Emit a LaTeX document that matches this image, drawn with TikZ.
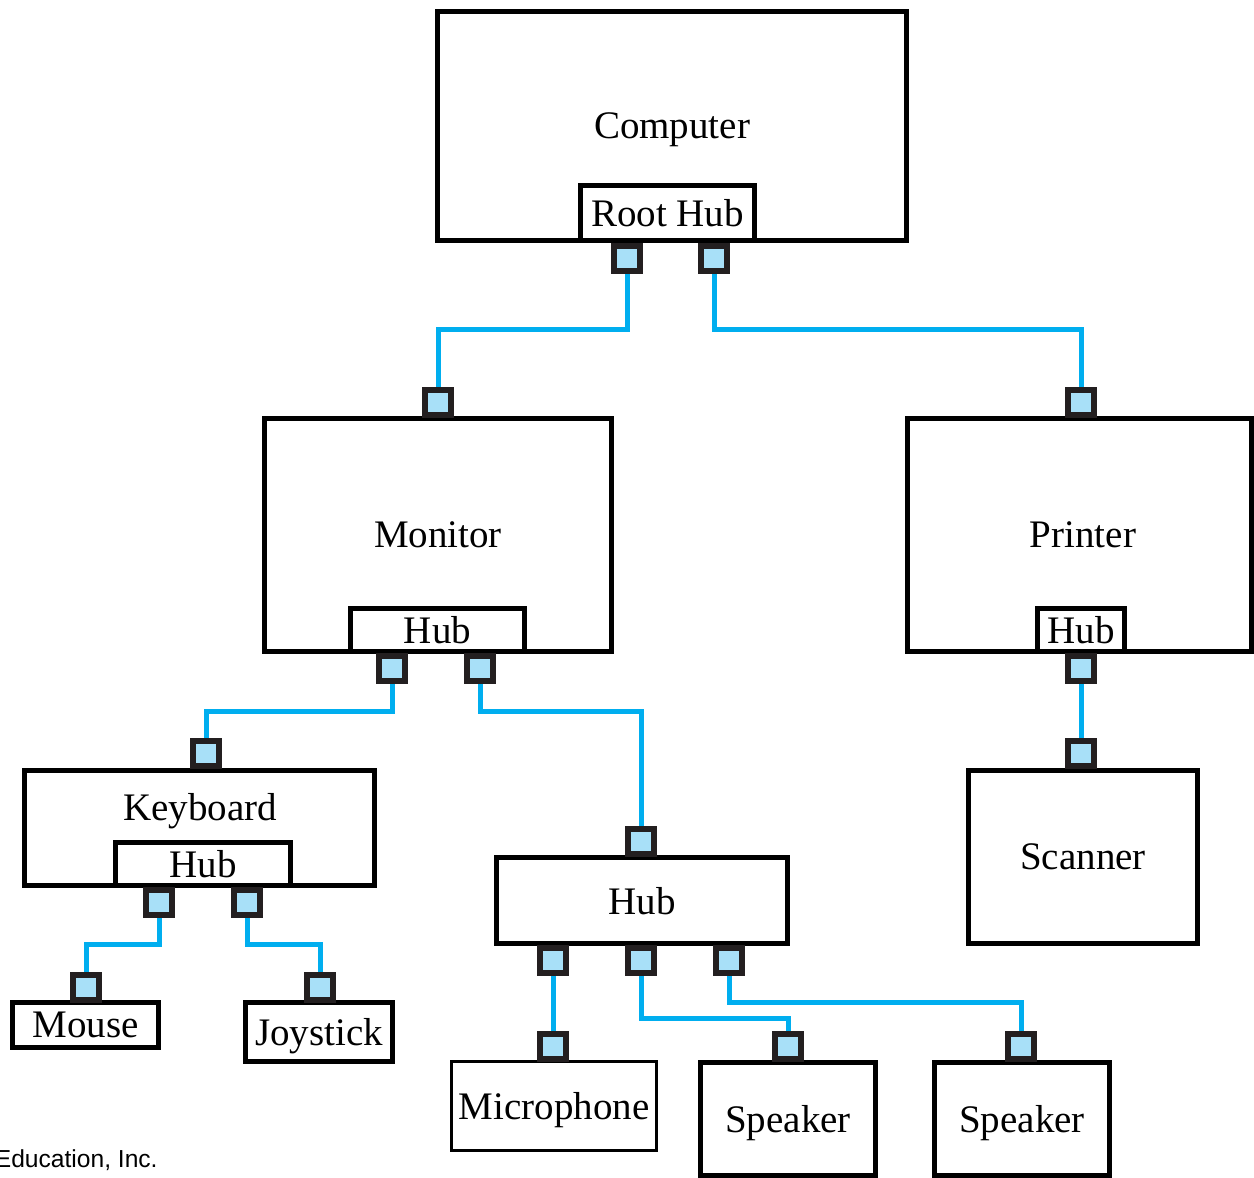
\documentclass[tikz,border=0pt]{standalone}
\usepackage{fontspec}
\setmainfont{Liberation Serif}
\newfontfamily\credfont{Liberation Sans}
\usetikzlibrary{backgrounds}
\definecolor{usbblue}{HTML}{00AEEF}
\definecolor{portfill}{HTML}{A8E0F8}
\definecolor{portline}{HTML}{231F20}
\begin{document}
\begin{tikzpicture}[x=0.5pt, y=-0.5pt, line join=miter,
	font=\fontsize{19.5}{22}\selectfont,
	devbox/.style 2 args={draw, line width=2.5pt, minimum width=#1, minimum height=#2, inner sep=0pt, text depth=0pt},
	port/.style={draw=portline, fill=portfill, line width=3pt, minimum width=13pt, minimum height=12.5pt, inner sep=0pt},
	wire/.style={draw=usbblue, line width=2.5pt}]
	\useasboundingbox (0,0) rectangle (1254,1178);
	% may tinh va hub goc
	\node[devbox={234.5pt}{114.5pt}] (computer) at (672,126) {Computer};
	\node[devbox={87pt}{27.5pt}] (roothub) at (667.5,213) {Root Hub};
	% man hinh
	\node[devbox={173.5pt}{116.5pt}] (monitor) at (438,535) {Monitor};
	\node[devbox={87pt}{21.5pt}] (monhub) at (437.5,630) {Hub};
	% may in, may quet
	\node[devbox={172pt}{116.5pt}] (printer) at (1079.5,535) {};
	\node (prtlabel) at (1083,535) {Printer};
	\node[devbox={43.5pt}{21.5pt}] (prthub) at (1081,630) {Hub};
	\node[devbox={114.5pt}{86.5pt}] (scanner) at (1083,857) {Scanner};
	% ban phim
	\node[devbox={175pt}{57.5pt}] (keyboard) at (199.5,828) {};
	\node[text depth=0pt] (kbdlabel) at (200,807) {Keyboard};
	\node[devbox={87.5pt}{21.5pt}] (kbdhub) at (203,864) {Hub};
	\node[devbox={73pt}{22.5pt}] (mouse) at (85.5,1025) {Mouse};
	\node[devbox={73.5pt}{29.5pt}] (joystick) at (319,1032) {Joystick};
	% hub am thanh
	\node[devbox={145.5pt}{43pt}] (hub) at (642,900.5) {Hub};
	\node[devbox={102.5pt}{44.5pt}, line width=1.5pt] (mic) at (554,1106) {Microphone};
	\node[devbox={87.5pt}{56.5pt}] (speakerA) at (788,1119) {Speaker};
	\node[devbox={87.5pt}{56.5pt}] (speakerB) at (1022,1119) {Speaker};
	% cac cong
	\foreach \ten/\px/\py in {rp1/627/258, rp2/714/258, mport/438/402, pport/1081/402,
		mp1/392/668, mp2/480/668, pp/1081/668, kport/206/753, sport/1081/753,
		hport/641/841, kp1/159/902, kp2/247/902, hp1/553/960, hp2/641/960, hp3/729/960,
		moport/86/987, jport/320/987, micport/553/1046, spkAport/788/1046, spkBport/1021/1046}
		\node[port] (\ten) at (\px,\py) {};
	% day noi
	\begin{scope}[on background layer]
		\draw[wire] (rp1) -- ++(0,71) -| (mport);
		\draw[wire] (rp2) -- ++(0,71) -| (pport);
		\draw[wire] (mp1) -- ++(0,43) -| (kport);
		\draw[wire] (mp2) -- ++(0,43) -| (hport);
		\draw[wire] (pp) -- (sport);
		\draw[wire] (kp1) -- ++(0,42) -| (moport);
		\draw[wire] (kp2) -- ++(0,42) -| (jport);
		\draw[wire] (hp1) -- (micport);
		\draw[wire] (hp2) -- ++(0,58) -| (spkAport);
		\draw[wire] (hp3) -- ++(0,42) -| (spkBport);
	\end{scope}
	\node[anchor=base east, font=\credfont\fontsize{12.3}{14}\selectfont, inner sep=0pt] (credit) at (158,1167) {Education, Inc.};
\end{tikzpicture}
\end{document}
